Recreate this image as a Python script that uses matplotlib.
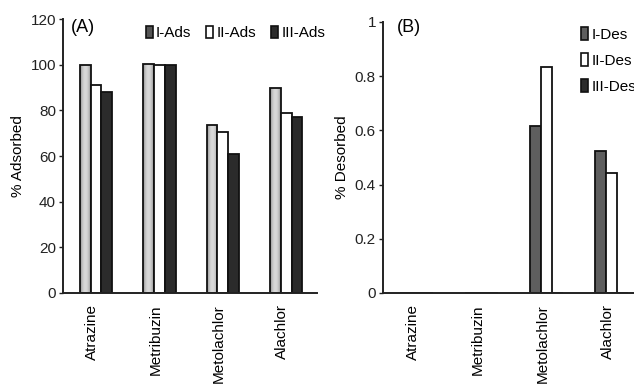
import numpy as np
import matplotlib
matplotlib.use("Agg")
import matplotlib.pyplot as plt
from matplotlib.patches import Patch

plt.rcParams['font.family'] = ['Liberation Sans', 'DejaVu Sans']

# --- data ---
herbicides = ["Atrazine", "Metribuzin", "Metolachlor", "Alachlor"]

ads_labels = ["I-Ads", "II-Ads", "III-Ads"]
ads_I = [100.0, 100.5, 73.8, 89.6]
ads_II = [91.3, 100.0, 70.5, 78.7]
ads_III = [88.0, 99.8, 61.0, 77.2]

des_labels = ["I-Des", "II-Des", "III-Des"]
des_I = [0.0, 0.0, 0.615, 0.523]
des_II = [0.0, 0.0, 0.834, 0.444]
des_III = [0.0, 0.0, 0.0, 0.0]

# styling
COL_I_ADS = "#c4c4c4"
COL_I_DES = "#5e5e5e"
COL_II = "#ffffff"
COL_III = "#2b2b2b"
BAR_W = 0.17

fig = plt.figure(figsize=(6.34, 3.89), dpi=100)
axA = fig.add_axes([0.0994, 0.2468, 0.400, 0.7043])
axB = fig.add_axes([0.604, 0.2468, 0.410, 0.6967])

x = np.arange(len(herbicides)) + 0.52


def style_axis(ax):
    for s in ("top", "right"):
        ax.spines[s].set_visible(False)
    for s in ("left", "bottom"):
        ax.spines[s].set_linewidth(1.4)
        ax.spines[s].set_color("#222222")
    ax.tick_params(axis="y", length=3, width=1.0, labelsize=11, pad=2, colors="#222222")
    ax.tick_params(axis="x", length=0, labelsize=11, pad=8)
    ax.set_xticks(x - 0.06)
    ax.set_xticklabels(herbicides, rotation=90)
    ax.set_xlim(0, 4)


def shade_bars(ax, bars):
    # excel-style horizontal gradient: darker edges, light centre
    grad = np.abs(np.linspace(-1, 1, 64))
    grad = (0.55 + 0.30 * (1 - grad ** 2))[None, :]
    for b in bars:
        x0, y0 = b.get_x(), b.get_y()
        w, h = b.get_width(), b.get_height()
        im = ax.imshow(grad, cmap="gray", vmin=0, vmax=1, aspect="auto",
                       extent=(x0, x0 + w, y0, y0 + h), zorder=b.get_zorder() - 0.1,
                       interpolation="bilinear")
        im.set_clip_path(b)


# ==========================================
# (A) adsorption
# ==========================================
cols_a = [COL_I_ADS, COL_II, COL_III]
for i, vals in enumerate([ads_I, ads_II, ads_III]):
    bars = axA.bar(x + (i - 1) * BAR_W, vals, BAR_W, color=cols_a[i],
                   edgecolor="#111111", linewidth=1.3)
    if i == 0:
        for b in bars:
            b.set_facecolor("none")
        shade_bars(axA, bars)
axA.set_ylim(0, 120)
axA.set_yticks(range(0, 121, 20))
style_axis(axA)
axA.set_ylabel("% Adsorbed", fontsize=11, labelpad=4)
axA.text(0.03, 1.0, "(A)", transform=axA.transAxes, fontsize=13, va="top")

handles_a = [Patch(facecolor=c, edgecolor="#111111", linewidth=1.2)
             for c in ["#555555", COL_II, COL_III]]
axA.legend(handles_a, ads_labels, loc="center left", bbox_to_anchor=(0.218, 0.915),
           bbox_transform=fig.transFigure, ncol=3, frameon=False, fontsize=11,
           handlelength=0.45, handleheight=0.9, handletextpad=0.2, columnspacing=1.0,
           borderpad=0)

# ==========================================
# (B) desorption
# ==========================================
cols_b = [COL_I_DES, COL_II, COL_III]
for i, vals in enumerate([des_I, des_II, des_III]):
    axB.bar(x + (i - 1) * BAR_W, vals, BAR_W, color=cols_b[i],
            edgecolor="#111111", linewidth=1.3)
axB.set_ylim(0, 1)
axB.set_yticks([0, 0.2, 0.4, 0.6, 0.8, 1])
axB.set_yticklabels(["0", "0.2", "0.4", "0.6", "0.8", "1"])
style_axis(axB)
axB.set_ylabel("% Desorbed", fontsize=11, labelpad=4)
axB.text(0.055, 1.01, "(B)", transform=axB.transAxes, fontsize=13, va="top")

handles_b = [Patch(facecolor=c, edgecolor="#111111", linewidth=1.2) for c in cols_b]
axB.legend(handles_b, des_labels, loc="upper left", bbox_to_anchor=(0.905, 0.95),
           bbox_transform=fig.transFigure, frameon=False, fontsize=11,
           handlelength=0.45, handleheight=0.9, handletextpad=0.25, labelspacing=0.75,
           borderpad=0)

fig.savefig("out.png", dpi=100)
